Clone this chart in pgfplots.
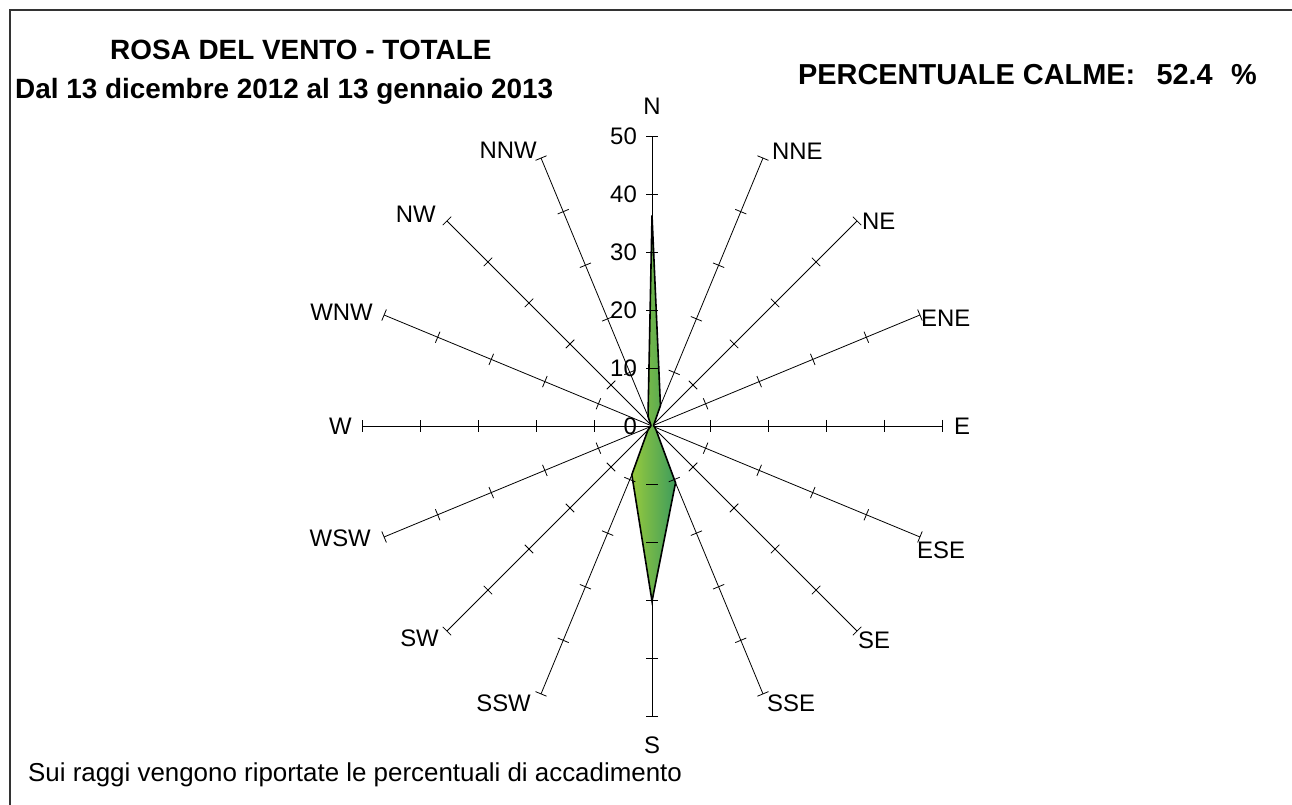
\documentclass[border=0pt]{standalone}
\usepackage{fontspec}
\setmainfont{Liberation Sans}
\usepackage{pgfplots}
\pgfplotsset{compat=1.18}

\definecolor{rosalight}{HTML}{96C93D}
\definecolor{rosadark}{HTML}{3E9C5C}

\begin{document}
\begin{tikzpicture}[x=1bp,y=1bp]
\useasboundingbox (0,0) rectangle (1292,805);
% frame (only left and top edges visible)
\draw[line width=1.5bp,black!80] (10,0) -- (10,795) -- (1292,795);

\begin{axis}[at={(652bp,379bp)},anchor=center,
  width=580bp,height=580bp,scale only axis,
  xmin=-50,xmax=50,ymin=-50,ymax=50,
  hide axis,clip=false]
% spokes with ticks every 10
\pgfplotsinvokeforeach{90,67.5,45,22.5,0,-22.5,-45,-67.5,-90,-112.5,-135,-157.5,180,157.5,135,112.5}{
  \addplot[data cs=polar,black,line width=0.8bp,mark=|,mark size=6bp,
    mark indices={2,3,4,5,6},mark options={rotate=#1,line width=0.8bp}]
    coordinates {(#1,0) (#1,10) (#1,20) (#1,30) (#1,40) (#1,50)};
}
% wind rose: N, NNE, NE, ENE, E, ESE, SE, SSE, S, SSW, SW, WSW, W, WNW, NW, NNW
\addplot[data cs=polar,draw=black,line width=1.6bp,
  left color=rosalight,right color=rosadark] coordinates {
  (90,36.3) (67.5,3.8) (45,0.5) (22.5,0.3) (0,0.3) (-22.5,0.5) (-45,1.0)
  (-67.5,10.6) (-90,30.2) (-112.5,9.1) (-135,1.0) (-157.5,0.3) (180,0.2)
  (157.5,0.2) (135,0.3) (112.5,1.8) } -- cycle;
\end{axis}

\begin{scope}[font=\fontsize{24}{28}\selectfont]
% scale labels on the N spoke
\foreach \v/\y in {0/426,10/368,20/310,30/252,40/194,50/136}
  \node[anchor=east,inner sep=0] at (637,805-\y) {\v};
% direction labels
\node[inner sep=0] at (652,805-106) {N};
\node[anchor=west,inner sep=0] at (772,805-151) {NNE};
\node[anchor=west,inner sep=0] at (862,805-221) {NE};
\node[anchor=west,inner sep=0] at (921,805-318) {ENE};
\node[anchor=west,inner sep=0] at (954,805-426) {E};
\node[anchor=west,inner sep=0] at (917,805-550) {ESE};
\node[anchor=west,inner sep=0] at (858,805-640) {SE};
\node[anchor=west,inner sep=0] at (767,805-703) {SSE};
\node[inner sep=0] at (652,805-745) {S};
\node[anchor=east,inner sep=0] at (531,805-703) {SSW};
\node[anchor=east,inner sep=0] at (439,805-638) {SW};
\node[anchor=east,inner sep=0] at (371,805-538) {WSW};
\node[anchor=east,inner sep=0] at (352,805-426) {W};
\node[anchor=east,inner sep=0] at (373,805-312) {WNW};
\node[anchor=east,inner sep=0] at (436,805-214) {NW};
\node[anchor=east,inner sep=0] at (537,805-150) {NNW};
\end{scope}
% footer
\node[anchor=west,inner sep=0,font=\fontsize{26}{30}\selectfont] at (28,805-775)
  {Sui raggi vengono riportate le percentuali di accadimento};

\begin{scope}[font=\fontsize{28}{32}\selectfont\bfseries]
\node[anchor=west,inner sep=0] at (110,805-50) {ROSA DEL VENTO - TOTALE};
\node[anchor=west,inner sep=0] at (15,805-91) {Dal 13 dicembre 2012 al 13 gennaio 2013};
\end{scope}
\begin{scope}[font=\fontsize{29}{33}\selectfont\bfseries]
\node[anchor=west,inner sep=0] at (798,805-75) {PERCENTUALE CALME:};
\node[anchor=east,inner sep=0] at (1213,805-75) {52.4};
\node[anchor=east,inner sep=0] at (1257,805-75) {\%};
\end{scope}
\end{tikzpicture}
\end{document}
